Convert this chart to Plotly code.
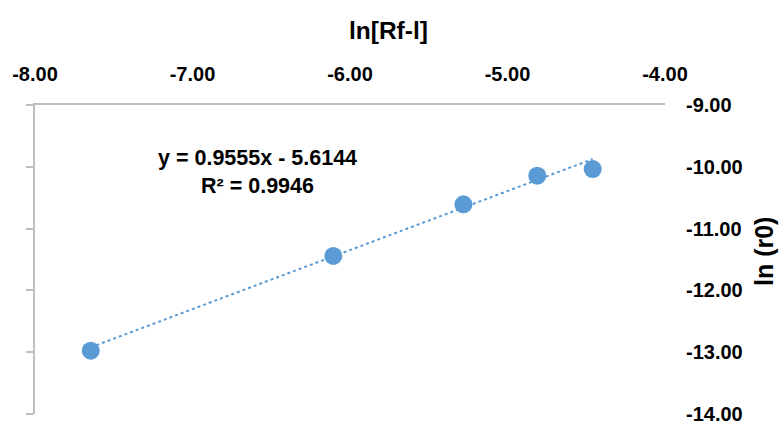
import numpy as np
import plotly.graph_objects as go

# Measured data
ln_rf_l = [-7.646, -6.106, -5.280, -4.811, -4.459]
ln_r0 = [-12.976, -11.443, -10.607, -10.144, -10.036]

# Linear trendline coefficients and fit quality
slope = 0.9555
intercept = -5.6144
r_squared = 0.9946

x_ticks = [-8, -7, -6, -5, -4]
y_ticks = [-14, -13, -12, -11, -10, -9]

BLUE = "#5B9BD5"
AXIS_GRAY = "#BFBFBF"
FONT = "Liberation Sans, Arial, sans-serif"

W, H = 780, 424
M_L, M_R, M_T, M_B = 35, 115, 105, 10


def fmt(v):
    # plain hyphen-minus, two decimals
    return f"{v:.2f}"


trend_x = np.array([min(ln_rf_l), max(ln_rf_l)])
trend_y = slope * trend_x + intercept

fig = go.Figure()

fig.add_trace(go.Scatter(
    x=trend_x, y=trend_y, mode="lines",
    line=dict(color=BLUE, width=2, dash="dot"),
    hoverinfo="skip", showlegend=False,
))
fig.add_trace(go.Scatter(
    x=ln_rf_l, y=ln_r0, mode="markers",
    marker=dict(color=BLUE, size=18, line=dict(width=0)),
    showlegend=False,
))
# empty trace that carries the left-hand axis line
fig.add_trace(go.Scatter(x=[], y=[], yaxis="y2", showlegend=False))

tick_font = dict(size=20, family=FONT, weight="bold", color="black")

fig.update_layout(
    width=W, height=H,
    margin=dict(l=M_L, r=M_R, t=M_T, b=M_B, autoexpand=False),
    paper_bgcolor="white", plot_bgcolor="white",
    font=dict(family=FONT, color="black"),
    xaxis=dict(
        side="top", range=[-8, -4],
        tickvals=x_ticks, ticktext=[fmt(v) for v in x_ticks],
        showgrid=False, zeroline=False, showline=True,
        linecolor=AXIS_GRAY, linewidth=1.5, ticks="",
        tickfont=tick_font, ticklabelstandoff=14, automargin=False,
    ),
    yaxis=dict(
        side="right", range=[-14, -9],
        tickvals=y_ticks, ticktext=[fmt(v) for v in y_ticks],
        showgrid=False, zeroline=False, showline=False, ticks="",
        tickfont=tick_font, ticklabelstandoff=20,
        ticklabeloverflow="allow", automargin=False,
    ),
    yaxis2=dict(
        overlaying="y", side="left", range=[-14, -9], tickvals=y_ticks,
        showgrid=False, zeroline=False, showline=True,
        linecolor=AXIS_GRAY, linewidth=1.5,
        ticks="outside", ticklen=7, tickwidth=1.5, tickcolor=AXIS_GRAY,
        showticklabels=False, automargin=False,
    ),
)


def px_x(p):
    return (p - M_L) / (W - M_L - M_R)


def px_y(p):
    return (H - M_B - p) / (H - M_T - M_B)


fig.add_annotation(
    text="<b>ln[Rf-l]</b>", xref="paper", yref="paper",
    x=px_x(388), y=px_y(30), showarrow=False,
    xanchor="center", yanchor="middle",
    font=dict(size=24.5, family=FONT, color="black"),
)
fig.add_annotation(
    text="<b>ln (r0)</b>", xref="paper", yref="paper",
    x=px_x(764), y=px_y(252), showarrow=False, textangle=-90,
    xanchor="center", yanchor="middle",
    font=dict(size=25, family=FONT, color="black"),
)
fig.add_annotation(
    text=f"<b>y = {slope:.4f}x - {abs(intercept):.4f}</b><br><b>R² = {r_squared:.4f}</b>",
    xref="paper", yref="paper",
    x=px_x(257), y=px_y(172), showarrow=False,
    xanchor="center", yanchor="middle", align="center",
    font=dict(size=21.5, family=FONT, color="black"),
)

fig.write_html("out.html")
